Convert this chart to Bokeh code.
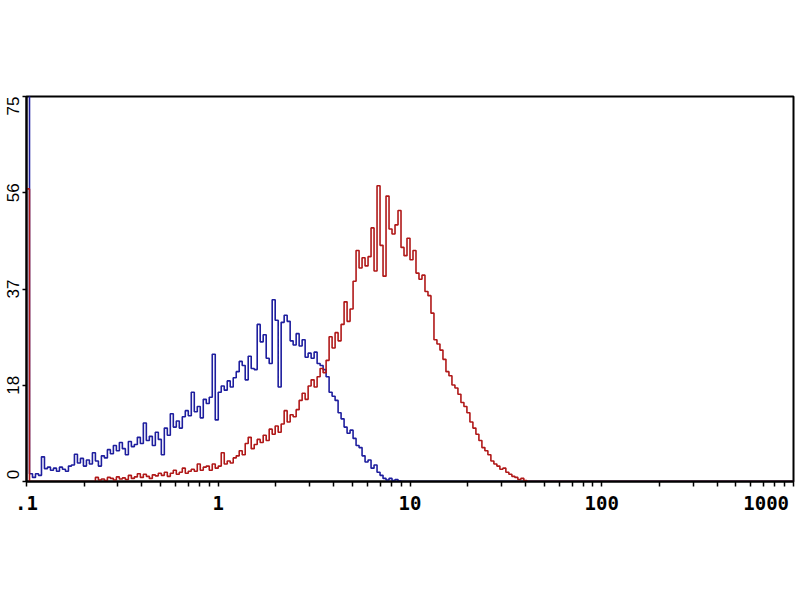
import numpy as np
from bokeh.plotting import figure
from bokeh.models import FixedTicker, Range1d
from bokeh.embed import file_html
from bokeh.resources import INLINE

# ---------------- data ----------------
CHANNELS_PER_DECADE = 64
X_START = 0.1
N_CHANNELS = 256

# blue histogram (channels 0..125), remaining channels empty
blue_counts = [
    80.0, 1.5, 0.8, 1.5, 1.2, 4.8, 2.5, 2.8, 2.2, 2.6,
    2.0, 2.8, 2.4, 2.0, 3.0, 3.2, 5.3, 3.6, 4.5, 3.0,
    4.2, 3.4, 5.6, 4.0, 3.0, 5.0, 4.6, 6.2, 5.4, 7.0,
    6.0, 7.6, 6.4, 5.2, 7.8, 6.8, 7.2, 8.6, 7.4, 11.4,
    8.0, 8.8, 7.0, 9.6, 8.2, 5.2, 10.4, 9.0, 13.2, 10.6,
    11.8, 10.4, 12.6, 13.8, 12.8, 17.4, 13.6, 14.6, 12.4, 16.0,
    15.2, 16.4, 24.8, 12.0, 17.4, 18.6, 17.8, 19.6, 18.4, 20.2,
    21.4, 23.4, 22.6, 19.8, 24.4, 22.0, 21.8, 30.6, 27.2, 28.6,
    24.0, 23.0, 35.4, 31.4, 18.4, 31.0, 32.4, 31.2, 27.4, 26.6,
    28.8, 26.4, 27.6, 24.2, 25.0, 24.0, 25.2, 23.0, 22.6, 21.8,
    20.4, 17.4, 16.6, 15.8, 13.4, 12.2, 10.6, 9.4, 10.0, 8.4,
    7.0, 6.6, 5.0, 3.8, 4.2, 2.6, 3.2, 1.8, 1.2, 0.6,
    0.3, 0.6, 0.2, 0.4, 0.1, 0.0,
]

# red histogram (channels 0..167), remaining channels empty
red_counts = [
    57.0, 0.0, 0.0, 0.0, 0.0, 0.0, 0.0, 0.0, 0.0, 0.0,
    0.0, 0.0, 0.0, 0.0, 0.0, 0.0, 0.0, 0.0, 0.0, 0.0,
    0.0, 0.0, 0.0, 0.8, 0.3, 0.5, 0.2, 0.8, 0.6, 0.3,
    0.9, 0.5, 0.7, 0.4, 1.2, 0.6, 0.9, 1.5, 0.8, 1.4,
    1.0, 0.6, 1.3, 1.1, 1.6, 1.2, 1.8, 1.0, 1.6, 2.2,
    1.4, 1.8, 2.6, 1.6, 2.0, 2.4, 2.0, 3.4, 2.2, 2.8,
    3.0, 2.2, 3.4, 2.6, 3.0, 5.6, 3.4, 4.0, 3.6, 4.6,
    5.0, 6.0, 5.2, 7.4, 8.6, 6.4, 7.2, 8.2, 7.6, 9.0,
    8.0, 10.2, 9.2, 10.8, 9.6, 11.2, 13.8, 11.6, 13.0, 12.6,
    14.0, 15.8, 17.2, 16.0, 18.6, 19.8, 18.4, 20.4, 22.0, 21.2,
    23.6, 28.2, 26.0, 29.0, 27.4, 30.6, 35.0, 31.2, 33.6, 39.0,
    45.0, 41.6, 43.6, 42.0, 43.8, 49.4, 41.0, 57.6, 46.0, 40.0,
    55.6, 49.2, 48.2, 50.0, 52.8, 45.6, 44.0, 47.4, 43.2, 45.0,
    40.6, 39.4, 40.2, 37.0, 36.2, 32.8, 27.6, 26.8, 25.6, 23.8,
    21.4, 20.6, 18.8, 18.2, 17.0, 15.4, 14.6, 13.4, 11.6, 10.4,
    9.2, 8.0, 6.6, 6.0, 5.2, 4.0, 3.4, 3.0, 2.4, 2.6,
    1.8, 1.4, 1.0, 0.8, 0.4, 0.6, 0.2, 0.0,
]

x_tick_values = [0.1, 1, 10, 100, 1000]
x_tick_labels = [".1", "1", "10", "100", "1000"]
y_tick_values = [0, 18.75, 37.5, 56.25, 75]
y_tick_labels = ["0", "18", "37", "56", "75"]

BLUE = "#1e1e9e"
RED = "#b01818"
NB = "\u00a0"

# ---------------- build ----------------
def full(counts):
    arr = np.zeros(N_CHANNELS)
    arr[:len(counts)] = counts
    return arr

edges = X_START * 10 ** (np.arange(N_CHANNELS + 1) / CHANNELS_PER_DECADE)

p = figure(x_axis_type="log", x_range=Range1d(0.1, 1000), y_range=Range1d(0, 75),
           frame_width=767, frame_height=385, output_backend="svg",
           toolbar_location=None, min_border_left=26, min_border_right=7,
           min_border_top=96, min_border_bottom=60, background_fill_color="white")
p.outline_line_color = "black"
p.outline_line_width = 2
p.grid.visible = False

for counts, color in ((blue_counts, BLUE), (red_counts, RED)):
    ys = np.append(full(counts), 0.0)
    p.step(x=edges, y=ys, mode="after", line_color=color, line_width=1.6)

# edge labels are padded so that they sit inside the frame like the original
x_over = {}
for v, t in zip(x_tick_values, x_tick_labels):
    x_over[v] = t + NB if v == x_tick_values[-1] else t
y_over = {}
for v, t in zip(y_tick_values, y_tick_labels):
    if v == y_tick_values[0]:
        y_over[v] = NB * 3 + t
    elif v == y_tick_values[-1]:
        y_over[v] = t + NB * 4
    else:
        y_over[v] = t

minor = [m * 10 ** k for k in range(-1, 3) for m in range(2, 10)]
p.xaxis.ticker = FixedTicker(ticks=x_tick_values, minor_ticks=minor)
p.xaxis.major_label_overrides = x_over
p.yaxis.ticker = FixedTicker(ticks=y_tick_values, minor_ticks=[])
p.yaxis.major_label_overrides = y_over
for ax in (p.xaxis[0], p.yaxis[0]):
    ax.axis_line_color = "black"
    ax.axis_line_width = 2
    ax.major_tick_line_color = "black"
    ax.major_tick_line_width = 1.5
    ax.minor_tick_line_color = "black"
    ax.minor_tick_line_width = 1.5
    ax.major_tick_in = 0
    ax.major_tick_out = 5
    ax.minor_tick_in = 0
    ax.minor_tick_out = 5
    ax.major_label_text_color = "black"

p.xaxis.major_label_text_font = "DejaVu Sans Mono"
p.xaxis.major_label_text_font_style = "bold"
p.xaxis.major_label_text_font_size = "19px"
p.xaxis.major_label_standoff = 5

p.yaxis.major_label_text_font = "Liberation Sans"
p.yaxis.major_label_text_font_style = "normal"
p.yaxis.major_label_text_font_size = "17px"
p.yaxis.major_label_orientation = "parallel"
p.yaxis.major_label_standoff = 0
p.yaxis.major_tick_out = 4

open("out.html", "w").write(file_html(p, INLINE))
